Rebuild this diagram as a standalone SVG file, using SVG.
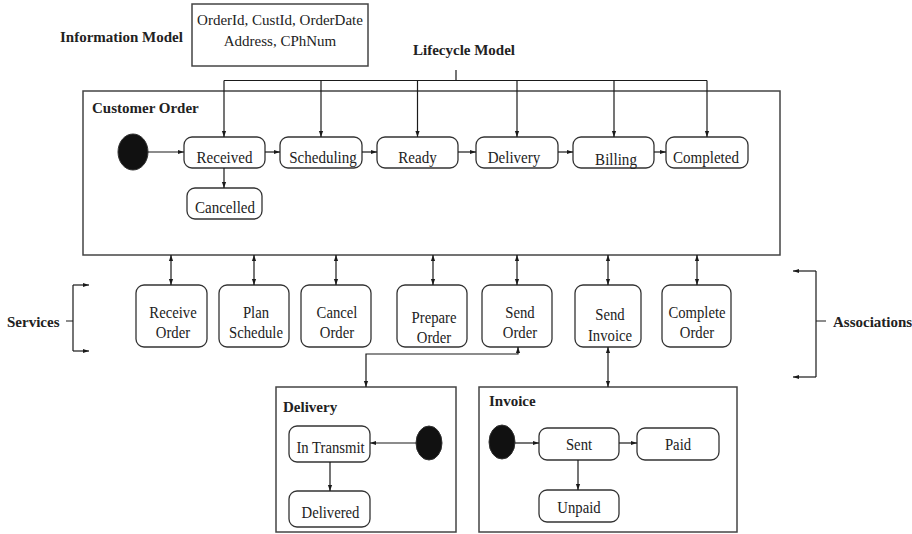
<svg xmlns="http://www.w3.org/2000/svg" width="912" height="534" viewBox="0 0 912 534">
<defs>
<marker id="ah" viewBox="0 0 10 10" refX="10" refY="5" markerWidth="6" markerHeight="6" orient="auto-start-reverse" markerUnits="userSpaceOnUse">
<path d="M0,1.5 L10,5 L0,8.5 z" fill="#1a1a1a"/>
</marker>
<style>
.t{font-family:"Liberation Serif","Times New Roman",serif;font-size:17.5px;fill:#222;text-anchor:middle}
.i{font-family:"Liberation Serif","Times New Roman",serif;font-size:15px;fill:#222;text-anchor:middle}
.b{font-family:"Liberation Serif","Times New Roman",serif;font-size:15px;font-weight:bold;fill:#222}
.frame{fill:#fff;stroke:#444;stroke-width:1.5}
.st{fill:#fff;stroke:#333;stroke-width:1.3}
.init{fill:#111;stroke:#333;stroke-width:1}
.c{fill:none;stroke:#1a1a1a;stroke-width:1.2}
.a{fill:none;stroke:#1a1a1a;stroke-width:1.2;marker-end:url(#ah)}
.d{fill:none;stroke:#1a1a1a;stroke-width:1.2;marker-end:url(#ah);marker-start:url(#ah)}
</style>
</defs>
<rect width="912" height="534" fill="#fff"/>

<g id="information-model">
<text class="b" x="60" y="42">Information Model</text>
<rect class="frame" x="192" y="4" width="176" height="62"/>
<text class="i" x="280" y="25">OrderId, CustId, OrderDate</text>
<text class="i" x="280" y="46">Address, CPhNum</text>
</g>

<g id="lifecycle-label">
<text class="b" x="413" y="55">Lifecycle Model</text>
</g>

<g id="customer-order">
<rect class="frame" x="83" y="91" width="697" height="164"/>
<text class="b" x="92" y="113">Customer Order</text>
</g>

<g id="co-initial"><ellipse class="init" cx="133" cy="152" rx="15" ry="18"/></g>
<g id="received"><rect class="st" x="184" y="137" width="81" height="31" rx="8"/><text class="t" transform="translate(224.5,163) scale(0.86,1)">Received</text></g>
<g id="scheduling"><rect class="st" x="280" y="137" width="82" height="31" rx="8"/><text class="t" transform="translate(323,163) scale(0.86,1)">Scheduling</text></g>
<g id="ready"><rect class="st" x="377" y="137" width="81" height="31" rx="8"/><text class="t" transform="translate(417.5,163) scale(0.86,1)">Ready</text></g>
<g id="delivery-state"><rect class="st" x="476" y="137" width="82" height="31" rx="8"/><text class="t" transform="translate(514,163) scale(0.86,1)">Delivery</text></g>
<g id="billing"><rect class="st" x="573" y="137" width="81" height="31" rx="8"/><text class="t" transform="translate(616,165) scale(0.86,1)">Billing</text></g>
<g id="completed"><rect class="st" x="666" y="137" width="82" height="31" rx="8"/><text class="t" transform="translate(706,163) scale(0.86,1)">Completed</text></g>
<g id="cancelled"><rect class="st" x="187" y="188" width="75" height="31" rx="8"/><text class="t" transform="translate(225,213) scale(0.86,1)">Cancelled</text></g>

<g id="services-label">
<text class="b" x="7" y="327">Services</text>
</g>
<g id="associations-label">
<text class="b" x="833" y="327">Associations</text>
</g>

<g id="receive-order"><rect class="st" x="136" y="285" width="71" height="62" rx="8"/><text class="t" transform="translate(173,318) scale(0.84,1)">Receive</text><text class="t" transform="translate(173,338) scale(0.84,1)">Order</text></g>
<g id="plan-schedule"><rect class="st" x="219" y="285" width="70" height="62" rx="8"/><text class="t" transform="translate(256,318) scale(0.84,1)">Plan</text><text class="t" transform="translate(256,338) scale(0.84,1)">Schedule</text></g>
<g id="cancel-order"><rect class="st" x="301" y="285" width="70" height="62" rx="8"/><text class="t" transform="translate(337,318) scale(0.84,1)">Cancel</text><text class="t" transform="translate(337,338) scale(0.84,1)">Order</text></g>
<g id="prepare-order"><rect class="st" x="397" y="285" width="70" height="62" rx="8"/><text class="t" transform="translate(434,323) scale(0.84,1)">Prepare</text><text class="t" transform="translate(434,343) scale(0.84,1)">Order</text></g>
<g id="send-order"><rect class="st" x="482" y="285" width="70" height="62" rx="8"/><text class="t" transform="translate(520,318) scale(0.84,1)">Send</text><text class="t" transform="translate(520,338) scale(0.84,1)">Order</text></g>
<g id="send-invoice"><rect class="st" x="575" y="285" width="66" height="62" rx="8"/><text class="t" transform="translate(610,320) scale(0.84,1)">Send</text><text class="t" transform="translate(610,341) scale(0.84,1)">Invoice</text></g>
<g id="complete-order"><rect class="st" x="662" y="285" width="69" height="62" rx="8"/><text class="t" transform="translate(697,318) scale(0.84,1)">Complete</text><text class="t" transform="translate(697,338) scale(0.84,1)">Order</text></g>

<g id="delivery">
<rect class="frame" x="276" y="387" width="180" height="145"/>
<text class="b" x="283" y="412">Delivery</text>
</g>
<g id="in-transmit"><rect class="st" x="289" y="426" width="81" height="36" rx="8"/><text class="t" transform="translate(330.5,453) scale(0.84,1)">In Transmit</text></g>
<g id="delivered"><rect class="st" x="289" y="491" width="81" height="36" rx="8"/><text class="t" transform="translate(330.5,518) scale(0.84,1)">Delivered</text></g>
<g id="delivery-initial"><ellipse class="init" cx="429" cy="443" rx="13" ry="17"/></g>

<g id="invoice">
<rect class="frame" x="479" y="387" width="258" height="145"/>
<text class="b" x="489" y="406">Invoice</text>
</g>
<g id="invoice-initial"><ellipse class="init" cx="502" cy="442" rx="13" ry="17"/></g>
<g id="sent"><rect class="st" x="539" y="428" width="80" height="32" rx="8"/><text class="t" transform="translate(579,450) scale(0.84,1)">Sent</text></g>
<g id="paid"><rect class="st" x="637" y="428" width="82" height="32" rx="8"/><text class="t" transform="translate(678,450) scale(0.84,1)">Paid</text></g>
<g id="unpaid"><rect class="st" x="539" y="490" width="80" height="32" rx="8"/><text class="t" transform="translate(579,513) scale(0.84,1)">Unpaid</text></g>

<g id="connectors">
<path class="c" d="M456,70 V80.5 M224,80.5 H707"/>
<path class="a" d="M224,80.5 V137"/>
<path class="a" d="M321,80.5 V137"/>
<path class="a" d="M417.5,80.5 V137"/>
<path class="a" d="M517,80.5 V137"/>
<path class="a" d="M614,80.5 V137"/>
<path class="a" d="M707,80.5 V137"/>
<path class="a" d="M148,152 H184"/>
<path class="a" d="M265,152 H280"/>
<path class="a" d="M362,152 H377"/>
<path class="a" d="M458,152 H476"/>
<path class="a" d="M558,152 H573"/>
<path class="a" d="M654,152 H666"/>
<path class="a" d="M224,168 V188"/>
<path class="d" d="M171,255 V285"/>
<path class="d" d="M254,255 V285"/>
<path class="d" d="M336,255 V285"/>
<path class="d" d="M433,255 V285"/>
<path class="d" d="M517,255 V285"/>
<path class="d" d="M608,255 V285"/>
<path class="d" d="M697,255 V285"/>
<path class="c" d="M66,321 H73 M73,285 V351"/>
<path class="a" d="M73,285 H89"/>
<path class="a" d="M73,351 H89"/>
<path class="c" d="M816,321 H826 M816,271 V377"/>
<path class="a" d="M816,271 H793"/>
<path class="a" d="M816,377 H793"/>
<path class="d" d="M366,387 V354 H518 V347"/>
<path class="d" d="M608,347 V387"/>
<path class="a" d="M416,443 H370"/>
<path class="a" d="M330,462 V491"/>
<path class="a" d="M515,443 H539"/>
<path class="a" d="M619,443 H637"/>
<path class="a" d="M578,460 V490"/>
</g>
</svg>
